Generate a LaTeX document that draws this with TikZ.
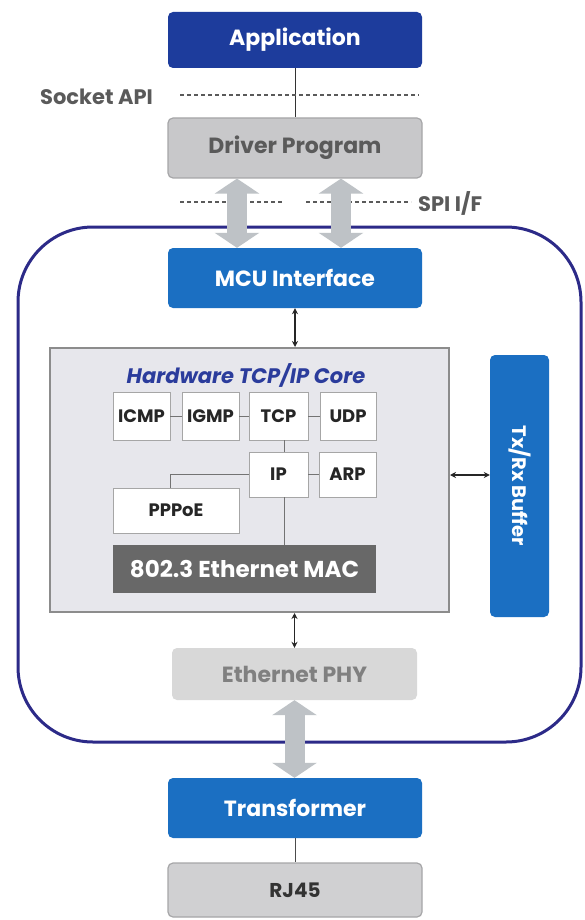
\documentclass[tikz,border=0pt]{standalone}
\usepackage{fontspec}
\setmainfont{Poppins}
\usetikzlibrary{arrows.meta,calc}

\definecolor{appblue}{HTML}{1D3C9C}
\definecolor{hwblue}{HTML}{1B6FC2}
\definecolor{navyline}{HTML}{2C2A88}
\definecolor{drvfill}{HTML}{C8C8CA}
\definecolor{drvline}{HTML}{A6A6A8}
\definecolor{phyfill}{HTML}{D8D8D8}
\definecolor{corefill}{HTML}{E7E7EC}
\definecolor{coreline}{HTML}{8C8C8C}
\definecolor{macfill}{HTML}{686868}
\definecolor{bigarrow}{HTML}{BEC2C6}
\definecolor{labelgray}{HTML}{5A5A5A}
\definecolor{titleblue}{HTML}{2B3C9C}

\tikzset{
  box/.style={rounded corners=5pt, inner sep=0pt, font=\bfseries\fontsize{22}{24}\selectfont},
  darkbox/.style={box, fill=appblue, text=white},
  bluebox/.style={box, fill=hwblue, text=white},
  graybox/.style={box, fill=drvfill, draw=drvline, line width=1.2pt, text=labelgray},
  phybox/.style={box, fill=phyfill, text=gray},
  jackbox/.style={box, fill=drvfill!85!white, draw=drvline, line width=1.2pt, text=black!80,
    font=\bfseries\fontsize{20}{22}\selectfont},
  proto/.style={draw=black!35, fill=white, inner sep=0pt, line width=0.8pt,
    font=\bfseries\fontsize{18}{20}\selectfont, text=black!85},
  link/.style={draw=black!55, line width=1pt},
  smallarrow/.style={{Stealth[length=6pt,width=6pt]}-{Stealth[length=6pt,width=6pt]}, line width=1.3pt, black!85},
  fatarrow/.style={bigarrow, line width=20pt,
    {Triangle[length=15pt 0 0,width=44pt 0 0]}-{Triangle[length=15pt 0 0,width=44pt 0 0]}},
  boundary/.style={dash pattern=on 4pt off 3pt, line width=1.3pt, labelgray},
  sidelabel/.style={font=\bfseries\fontsize{21}{23}\selectfont, text=labelgray, inner sep=0pt},
}

\begin{document}
\begin{tikzpicture}[x=1pt, y=-1pt]
\useasboundingbox (0,0) rectangle (584,920);
\fill[white] (0,0) rectangle (584,920);

% chip outline
\draw[navyline, line width=3pt, rounded corners=75pt] (18,227) rectangle (581,742);

% host side
\node[darkbox, minimum width=254, minimum height=56] (app) at (295,40) {Application};
\node[graybox, minimum width=254, minimum height=60] (drv) at (295,148) {Driver Program};
\draw[link, black!80] (app.south) -- (drv.north);

% interface boundaries
\node[sidelabel, anchor=west] (sock) at (40,97) {Socket API};
\draw[boundary] (180,95) -- (419,95);
\draw[boundary] (180,202) -- (283,202);
\draw[boundary] (306,202) -- (411,202);
\node[sidelabel, anchor=west] (spi) at (418,203) {SPI I/F};

% chip blocks
\node[bluebox, minimum width=254, minimum height=60] (mcu) at (295,278) {MCU Interface};
\node[draw=coreline, fill=corefill, line width=2pt, minimum width=399, minimum height=264,
  inner sep=0pt] (core) at (249.5,480) {};
\node[font=\bfseries\itshape\fontsize{21}{23}\selectfont, text=titleblue] (coretitle) at (246,375)
  {Hardware TCP/IP Core};
\node[bluebox, minimum width=59, minimum height=262] (buf) at (519.5,486) {};
\node[rotate=-90, text=white, font=\bfseries\fontsize{19.5}{21}\selectfont] (buftext) at (buf.center) {Tx/Rx Buffer};
\node[phybox, minimum width=245, minimum height=52] (phy) at (294.5,674) {Ethernet PHY};

% protocol stack
\node[proto, minimum width=57, minimum height=48] (icmp) at (141.5,416) {ICMP};
\node[proto, minimum width=57, minimum height=48] (igmp) at (210.5,416) {IGMP};
\node[proto, minimum width=59, minimum height=48] (tcp) at (278.5,416) {TCP};
\node[proto, minimum width=56, minimum height=48] (udp) at (348,416) {UDP};
\node[proto, minimum width=59, minimum height=45] (ip) at (278.5,474.5) {IP};
\node[proto, minimum width=57, minimum height=45] (arp) at (347.5,474.5) {ARP};
\node[proto, minimum width=126, minimum height=45] (pppoe) at (176,510.5) {PPPoE};
\node[fill=macfill, inner sep=0pt, minimum width=263, minimum height=48, text=white,
  font=\bfseries\fontsize{23}{25}\selectfont] (mac) at (244.5,569) {802.3 Ethernet MAC};

\draw[link] (icmp) -- (igmp);
\draw[link] (igmp) -- (tcp);
\draw[link] (tcp) -- (udp);
\draw[link] (ip) -- (arp);
\draw[link] ([xshift=6pt]tcp.south) -- ([xshift=6pt]tcp.south |- ip.north);
\draw[link] ([xshift=6pt]ip.south) -- ([xshift=6pt]ip.south |- mac.north);
\draw[link] (ip.west) -- ([xshift=-6pt]pppoe.north |- ip.west) -- ([xshift=-6pt]pppoe.north);

% line side
\node[bluebox, minimum width=254, minimum height=60] (xfmr) at (295,808) {Transformer};
\node[jackbox, minimum width=254, minimum height=54] (rj) at (295,890) {RJ45};
\draw[link, black!70] (xfmr.south) -- (rj.north);

% data paths
\draw[fatarrow] ([xshift=-58pt]drv.south) -- ([xshift=-58pt]drv.south |- mcu.north);
\draw[fatarrow] ([xshift=46pt]drv.south) -- ([xshift=46pt]drv.south |- mcu.north);
\draw[fatarrow] (phy.south) -- (phy.south |- xfmr.north);
\draw[smallarrow] (mcu.south) -- (mcu.south |- core.north);
\draw[smallarrow] (phy.north |- core.south) -- (phy.north);
\draw[smallarrow] ([yshift=5pt]core.east) -- ([yshift=5pt]core.east -| buf.west);
\end{tikzpicture}
\end{document}
